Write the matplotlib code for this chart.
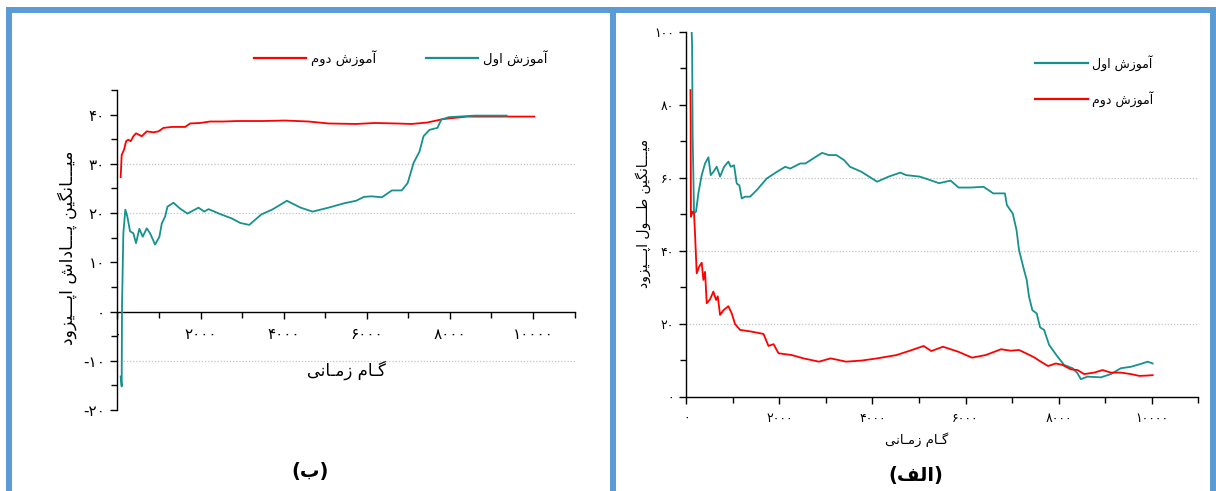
import matplotlib
matplotlib.use("Agg")
import matplotlib.pyplot as plt
from matplotlib.patches import Rectangle
from matplotlib.lines import Line2D
from matplotlib.ticker import MultipleLocator, FuncFormatter

plt.rcParams['font.family'] = ['DejaVu Sans']

# (ب) mean episode reward
steps_b_first = [79, 103, 111, 143, 191, 239, 304, 384, 448, 528, 609, 706, 786, 907, 1011,
                 1068, 1148, 1205, 1349, 1510, 1686, 1952, 2088, 2192, 2474, 2755, 2955, 3173,
                 3460, 3745, 4078, 4410, 4697, 5080, 5460, 5744, 5937, 6127, 6365, 6604, 6842,
                 6985, 7128, 7270, 7366, 7509, 7700, 7796, 7986, 8224, 8605, 9000, 9367]
reward_first = [-13.2, -15.2, 1.0, 15.9, 20.7, 19.3, 16.3, 15.9, 13.9, 16.8, 15.2, 16.9, 15.9,
                13.6, 15.2, 17.9, 19.3, 21.3, 22.1, 20.9, 19.9, 21.1, 20.3, 20.8, 19.8, 18.9,
                18.0, 17.6, 19.7, 20.8, 22.5, 21.1, 20.3, 21.1, 22.0, 22.5, 23.3, 23.4, 23.2,
                24.6, 24.6, 26.1, 30.2, 32.5, 35.6, 36.9, 37.3, 39.0, 39.5, 39.6, 39.8, 39.8, 39.8]
steps_b_second = [79, 103, 161, 209, 263, 319, 384, 448, 520, 585, 706, 867, 988, 1108, 1309,
                  1630, 1751, 1992, 2233, 2554, 2887, 3500, 4031, 4600, 5080, 5744, 6200, 6699,
                  7080, 7461, 7843, 8414, 9080, 10034]
reward_second = [27.3, 31.8, 32.9, 34.6, 34.9, 34.6, 35.6, 36.2, 35.9, 35.6, 36.6, 36.4, 36.6,
                 37.3, 37.5, 37.5, 38.2, 38.3, 38.6, 38.6, 38.7, 38.7, 38.8, 38.6, 38.2, 38.1,
                 38.3, 38.2, 38.1, 38.4, 39.1, 39.6, 39.6, 39.6]

# (الف) mean episode length
steps_a_first = [111, 120, 133, 162, 205, 255, 327, 399, 471, 521, 578, 650, 722, 808, 901,
                 951, 1023, 1080, 1138, 1188, 1260, 1368, 1511, 1727, 1943, 2123, 2230, 2446,
                 2558, 2765, 2916, 3058, 3224, 3390, 3515, 3765, 4099, 4349, 4599, 4724, 5015,
                 5181, 5431, 5681, 5849, 6097, 6390, 6597, 6847, 6890, 7015, 7097, 7151, 7259,
                 7316, 7366, 7438, 7532, 7604, 7690, 7798, 7978, 8121, 8301, 8409, 8481, 8624,
                 8912, 9127, 9342, 9558, 9774, 9917, 10025]
length_first = [100, 96.8, 71.2, 50.2, 50.7, 55.7, 60.7, 63.9, 65.6, 60.7, 61.6, 63.0, 60.3,
                63.0, 64.4, 63.0, 63.4, 58.4, 57.9, 54.3, 54.8, 54.8, 56.6, 59.8, 61.6, 63.0,
                62.5, 63.9, 63.9, 65.6, 66.8, 66.2, 66.2, 64.8, 63.0, 61.6, 58.9, 60.3, 61.4,
                60.7, 60.3, 59.6, 58.5, 59.2, 57.3, 57.3, 57.5, 55.7, 55.7, 52.5, 50.2, 45.7,
                40.2, 34.7, 32.0, 27.4, 23.7, 22.8, 19.0, 18.3, 14.2, 11.0, 8.7, 7.8, 6.4, 4.8,
                5.5, 5.3, 6.2, 7.8, 8.2, 9.0, 9.6, 9.1]
steps_a_second = [85, 90, 95, 133, 162, 183, 219, 270, 327, 363, 399, 435, 507, 578, 636, 672,
                  722, 794, 901, 973, 1044, 1152, 1368, 1655, 1763, 1871, 1979, 2266, 2516,
                  2849, 3099, 3432, 3765, 4099, 4515, 4849, 5099, 5265, 5515, 5849, 6140, 6432,
                  6765, 6972, 7151, 7331, 7475, 7618, 7776, 7942, 8085, 8265, 8409, 8552, 8768,
                  8947, 9127, 9342, 9558, 9738, 9917, 10025]
length_second = [84, 75.8, 49.3, 50.7, 50.2, 44.8, 33.8, 35.6, 36.7, 32.0, 34.2, 25.6, 26.7,
                 28.8, 26.5, 27.5, 22.4, 23.7, 24.8, 22.8, 19.9, 18.3, 17.9, 17.2, 13.9, 14.4,
                 11.9, 11.4, 10.5, 9.6, 10.5, 9.6, 9.9, 10.5, 11.4, 12.8, 13.9, 12.5, 13.7, 12.3,
                 10.7, 11.4, 13.0, 12.6, 12.8, 11.7, 10.8, 9.6, 8.4, 9.1, 8.7, 7.5, 7.3, 6.2,
                 6.6, 7.3, 6.6, 6.6, 6.2, 5.7, 5.8, 5.9]

series_names = ['آموزش اول', 'آموزش دوم']
grid_b = [30, 20, -10]
grid_a = [60, 40, 20]

TEAL = '#16918d'
RED = '#ff0000'
BLUE = '#5b9bd5'

# presentation forms: (isolated, final, initial, medial); two entries = right-joining only
FORMS = {
    'ا': ('\uFE8D', '\uFE8E'), 'آ': ('\uFE81', '\uFE82'), 'د': ('\uFEA9', '\uFEAA'),
    'ر': ('\uFEAD', '\uFEAE'), 'ز': ('\uFEAF', '\uFEB0'), 'و': ('\uFEED', '\uFEEE'),
    'ب': ('\uFE8F', '\uFE90', '\uFE91', '\uFE92'), 'پ': ('\uFB56', '\uFB57', '\uFB58', '\uFB59'),
    'ش': ('\uFEB5', '\uFEB6', '\uFEB7', '\uFEB8'), 'ط': ('\uFEC1', '\uFEC2', '\uFEC3', '\uFEC4'),
    'ف': ('\uFED1', '\uFED2', '\uFED3', '\uFED4'), 'گ': ('\uFB92', '\uFB93', '\uFB94', '\uFB95'),
    'ل': ('\uFEDD', '\uFEDE', '\uFEDF', '\uFEE0'), 'م': ('\uFEE1', '\uFEE2', '\uFEE3', '\uFEE4'),
    'ن': ('\uFEE5', '\uFEE6', '\uFEE7', '\uFEE8'), 'ی': ('\uFBFC', '\uFBFD', '\uFBFE', '\uFBFF'),
    'ـ': ('ـ', 'ـ', 'ـ', 'ـ'),
}


def fa(text):
    """Shape Persian letters and put them in visual (left-to-right) order."""
    out = []
    for i, ch in enumerate(text):
        forms = FORMS.get(ch)
        if forms is None:
            out.append(ch)
            continue
        prev = text[i - 1] if i > 0 else ''
        nxt = text[i + 1] if i + 1 < len(text) else ''
        join_prev = len(FORMS.get(prev, ())) == 4
        join_next = len(forms) == 4 and nxt in FORMS
        if join_prev and join_next:
            out.append(forms[3])
        elif join_prev:
            out.append(forms[1])
        elif join_next:
            out.append(forms[2])
        else:
            out.append(forms[0])
    mirror = {'(': ')', ')': '('}
    return ''.join(mirror.get(c, c) for c in reversed(out))


FA_DIGITS = str.maketrans('0123456789', '۰۱۲۳۴۵۶۷۸۹')
fa_num = FuncFormatter(lambda v, pos: str(int(round(v))).translate(FA_DIGITS))


def style_axes(ax, ymajor, yminor, tick_size):
    ax.spines['top'].set_visible(False)
    ax.spines['right'].set_visible(False)
    for s in ('left', 'bottom'):
        ax.spines[s].set_linewidth(1.0)
    ax.set_xlim(0, 11000)
    ax.xaxis.set_major_locator(MultipleLocator(2000))
    ax.xaxis.set_minor_locator(MultipleLocator(1000))
    ax.yaxis.set_major_locator(MultipleLocator(ymajor))
    ax.yaxis.set_minor_locator(MultipleLocator(yminor))
    ax.xaxis.set_major_formatter(fa_num)
    ax.yaxis.set_major_formatter(fa_num)
    ax.tick_params(which='major', direction='out', length=5, width=1.0, labelsize=tick_size)
    ax.tick_params(which='minor', direction='out', length=4, width=1.0)
    ax.tick_params(axis='x', pad=6)
    ax.tick_params(axis='y', pad=4)


W, H = 1216, 491
fig = plt.figure(figsize=(W / 100, H / 100), dpi=100)


def fx(px):
    return px / W


def fy(py):
    return 1 - py / H


# panel frames
fig.add_artist(Rectangle((fx(9), fy(520)), fx(604), 510 / H, transform=fig.transFigure,
                         fill=False, ec=BLUE, lw=4.3))
fig.add_artist(Rectangle((fx(613), fy(520)), fx(600), 510 / H, transform=fig.transFigure,
                         fill=False, ec=BLUE, lw=4.3))

# (ب) reward panel
ax_b = fig.add_axes([fx(117.4), fy(410), fx(457.1), 320 / H])
for g in grid_b:
    ax_b.axhline(g, color='#c4c4c4', lw=0.9, ls=(0, (1, 1.5)), zorder=0)
ax_b.plot(steps_b_second, reward_second, color=RED, lw=1.3, zorder=2)
ax_b.plot(steps_b_first, reward_first, color=TEAL, lw=1.3, zorder=3)
ax_b.set_ylim(-20, 45)
ax_b.spines['bottom'].set_position(('data', 0))
style_axes(ax_b, 10, 5, 11)

fig.legend([Line2D([], [], color=RED, lw=1.6), Line2D([], [], color=TEAL, lw=1.6)],
           [fa(series_names[1]), fa(series_names[0])], ncol=2, frameon=False,
           loc='center', bbox_to_anchor=(fx(401), fy(58)), fontsize=9.5,
           handlelength=3.9, handletextpad=0.4, columnspacing=3.8)

fig.text(fx(67), fy(248), fa('میـــانگین پـــاداش اپـــیزود'), rotation=90,
         ha='center', va='center', fontsize=12.5)
fig.text(fx(346), fy(370), fa('گـام زمـانی'), ha='center', va='center', fontsize=12)
fig.text(fx(310), fy(472), fa('(ب)'), ha='center', va='center', fontsize=14, fontweight='bold')

# (الف) episode length panel
ax_a = fig.add_axes([fx(686.5), fy(396.7), fx(511.5), 365 / H])
for g in grid_a:
    ax_a.axhline(g, color='#c4c4c4', lw=0.9, ls=(0, (1, 1.5)), zorder=0)
ax_a.plot(steps_a_first, length_first, color=TEAL, lw=1.3, zorder=2)
ax_a.plot(steps_a_second, length_second, color=RED, lw=1.3, zorder=3)
ax_a.set_ylim(0, 100)
style_axes(ax_a, 20, 10, 9)

fig.legend([Line2D([], [], color=TEAL, lw=1.6), Line2D([], [], color=RED, lw=1.6)],
           [fa(series_names[0]), fa(series_names[1])], ncol=1, frameon=False,
           loc='center', bbox_to_anchor=(fx(1094), fy(81)), fontsize=9,
           handlelength=4.2, handletextpad=0.3, labelspacing=1.6)

fig.text(fx(643), fy(213), fa('میـــانگین طـــول اپـــیزود'), rotation=90,
         ha='center', va='center', fontsize=10)
fig.text(fx(917), fy(440), fa('گـام زمـانی'), ha='center', va='center', fontsize=9.5)
fig.text(fx(916), fy(476), fa('(الف)'), ha='center', va='center', fontsize=14, fontweight='bold')

fig.savefig('out.png', dpi=100)
